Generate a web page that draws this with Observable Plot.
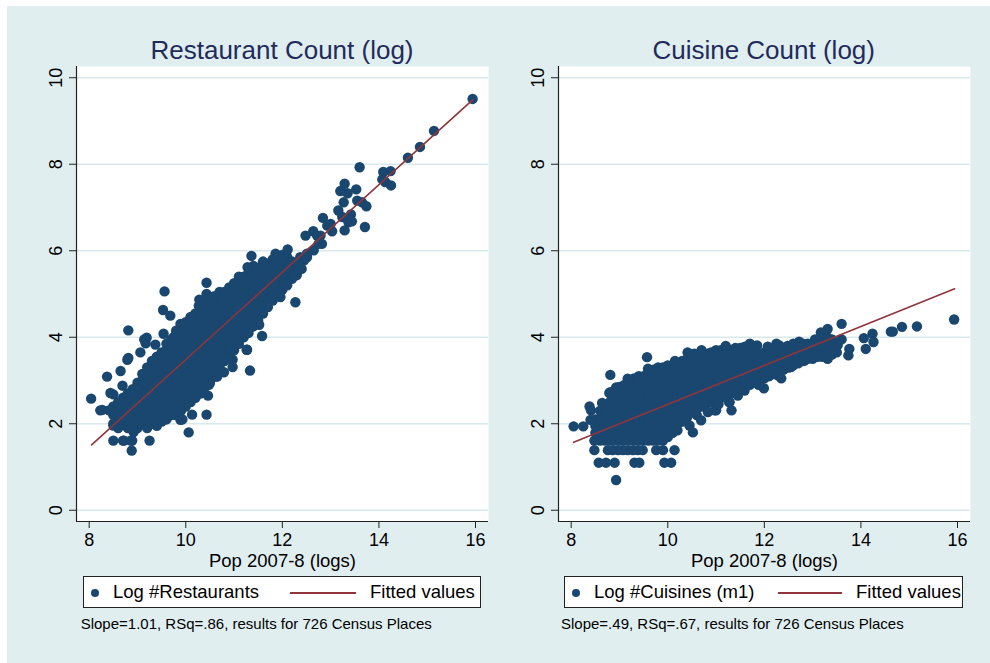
<!DOCTYPE html>
<html>
<head>
<meta charset="utf-8">
<script src="https://cdn.jsdelivr.net/npm/d3@7"></script>
<script src="https://cdn.jsdelivr.net/npm/@observablehq/plot@0.6"></script>
<style>
  body { margin: 0; background: #fff; font-family: "Liberation Sans", Arial, sans-serif; }
  #page { position: relative; width: 990px; height: 663px; overflow: hidden; }
  #bg { position: absolute; left: 7px; top: 6px; right: 0; bottom: 0; background: #e0eef0; }
  .title { position: absolute; top: 37px; width: 412px; text-align: center; font-size: 26px; line-height: 26px; color: #1f2b5c; white-space: nowrap; }
  .panel { position: absolute; top: 60px; }
  .legend { position: absolute; top: 576px; height: 32px; background: #fff; border: 1px solid #222; box-sizing: border-box; }
  .legend .dot { position: absolute; width: 8.6px; height: 8.6px; border-radius: 50%; top: 11.7px; }
  .legend .ln { position: absolute; height: 2px; top: 15px; }
  .legend .lbl { position: absolute; top: 6.3px; font-size: 18.5px; line-height: 18.5px; white-space: nowrap; color: #000; }
  .caption { position: absolute; top: 615.6px; font-size: 15px; line-height: 15px; white-space: nowrap; color: #000; }
</style>
</head>
<body>
<div id="page">
  <div id="bg"></div>
</div>
<script>
// ---- data ----
const xTicks = [8, 10, 12, 14, 16];
const yTicks = [0, 2, 4, 6, 8, 10];
const xDomain = [7.737, 16.269];
const yDomain = [-0.26, 10.26];

const panelTitles = ["Restaurant Count (log)", "Cuisine Count (log)"];
const xLabel = "Pop 2007-8 (logs)";
const seriesLabels = ["Log #Restaurants", "Log #Cuisines (m1)"];
const fitLabel = "Fitted values";
const captions = [
  "Slope=1.01, RSq=.86, results for 726 Census Places",
  "Slope=.49, RSq=.67, results for 726 Census Places"
];

// fitted lines (endpoints at data range)
const fitRestaurantX = [8.05, 15.94];
const fitRestaurantY = [1.51, 9.49];
const fitCuisineX = [8.05, 15.94];
const fitCuisineY = [1.57, 5.12];

// Log #Restaurants: dense cloud read column by column [x, [y...]]
const restaurantCloud = [
  [8.5, [2.0, 2.2, 2.4]],
  [8.6, [1.9, 2.1, 2.3, 2.5]],
  [8.7, [2.0, 2.2, 2.4, 2.6]],
  [8.8, [1.9, 2.1, 2.3, 2.5, 2.7]],
  [8.9, [2.0, 2.2, 2.4, 2.6, 2.8]],
  [9.0, [1.9, 2.1, 2.3, 2.5, 2.7, 2.95]],
  [9.1, [2.0, 2.2, 2.4, 2.6, 2.8, 3.0, 3.15]],
  [9.2, [1.9, 2.1, 2.3, 2.5, 2.7, 2.9, 3.1, 3.3]],
  [9.3, [2.0, 2.2, 2.4, 2.6, 2.8, 3.0, 3.2, 3.45]],
  [9.4, [1.95, 2.15, 2.35, 2.55, 2.75, 2.95, 3.15, 3.35, 3.55]],
  [9.5, [2.05, 2.25, 2.45, 2.65, 2.85, 3.05, 3.25, 3.45, 3.65]],
  [9.6, [2.1, 2.3, 2.5, 2.7, 2.9, 3.1, 3.3, 3.5, 3.7, 3.85]],
  [9.7, [2.2, 2.4, 2.6, 2.8, 3.0, 3.2, 3.4, 3.6, 3.8, 3.95]],
  [9.8, [2.2, 2.4, 2.6, 2.8, 3.0, 3.2, 3.4, 3.6, 3.8, 4.0, 4.15]],
  [9.9, [2.3, 2.5, 2.7, 2.9, 3.1, 3.3, 3.5, 3.7, 3.9, 4.1, 4.25]],
  [10.0, [2.4, 2.6, 2.8, 3.0, 3.2, 3.4, 3.6, 3.8, 4.0, 4.2, 4.35]],
  [10.1, [2.5, 2.7, 2.9, 3.1, 3.3, 3.5, 3.7, 3.9, 4.1, 4.3, 4.45]],
  [10.2, [2.6, 2.8, 3.0, 3.2, 3.4, 3.6, 3.8, 4.0, 4.2, 4.4, 4.55]],
  [10.3, [2.7, 2.9, 3.1, 3.3, 3.5, 3.7, 3.9, 4.1, 4.3, 4.5, 4.65]],
  [10.4, [2.85, 3.05, 3.25, 3.45, 3.65, 3.85, 4.05, 4.25, 4.45, 4.65, 4.8]],
  [10.5, [3.0, 3.2, 3.4, 3.6, 3.8, 4.0, 4.2, 4.4, 4.6, 4.8]],
  [10.6, [3.15, 3.35, 3.55, 3.75, 3.95, 4.15, 4.35, 4.55, 4.75, 4.95]],
  [10.7, [3.3, 3.5, 3.7, 3.9, 4.1, 4.3, 4.5, 4.7, 4.9, 5.05]],
  [10.8, [3.45, 3.65, 3.85, 4.05, 4.25, 4.45, 4.65, 4.85, 5.05]],
  [10.9, [3.55, 3.75, 3.95, 4.15, 4.35, 4.55, 4.75, 4.95, 5.15]],
  [11.0, [3.7, 3.9, 4.1, 4.3, 4.5, 4.7, 4.9, 5.1, 5.25]],
  [11.1, [3.85, 4.05, 4.25, 4.45, 4.65, 4.85, 5.05, 5.25, 5.4]],
  [11.2, [4.0, 4.2, 4.4, 4.6, 4.8, 5.0, 5.2, 5.4]],
  [11.3, [4.1, 4.3, 4.5, 4.7, 4.9, 5.1, 5.3, 5.5]],
  [11.4, [4.25, 4.45, 4.65, 4.85, 5.05, 5.25, 5.45, 5.65]],
  [11.5, [4.4, 4.6, 4.8, 5.0, 5.2, 5.4, 5.6]],
  [11.6, [4.55, 4.75, 4.95, 5.15, 5.35, 5.55, 5.75]],
  [11.7, [4.7, 4.9, 5.1, 5.3, 5.5, 5.7]],
  [11.8, [4.85, 5.05, 5.25, 5.45, 5.65, 5.8]],
  [11.9, [4.95, 5.15, 5.35, 5.55, 5.75]],
  [12.0, [5.1, 5.3, 5.5, 5.7, 5.9]],
  [12.1, [5.2, 5.4, 5.6, 5.85]],
  [12.2, [5.35, 5.55, 5.75]],
  [12.3, [5.45, 5.65]]
];

// Log #Restaurants: scattered points [x, y]
const restaurantOutliers = [
  [15.94, 9.51], [15.14, 8.77], [14.85, 8.40], [14.60, 8.15], [13.60, 7.93],
  [14.09, 7.82], [14.24, 7.84], [14.07, 7.65], [14.13, 7.59], [14.25, 7.51],
  [13.29, 7.55], [13.20, 7.38], [13.35, 7.33], [13.53, 7.42], [13.27, 7.12],
  [13.55, 7.16], [13.65, 7.12], [13.74, 7.03], [13.16, 6.93], [13.42, 6.84],
  [13.24, 6.78], [12.84, 6.76], [13.37, 6.66], [13.44, 6.68], [13.71, 6.55],
  [13.29, 6.47], [13.03, 6.45], [12.93, 6.58], [13.00, 6.62], [12.64, 6.45],
  [12.48, 6.35], [12.72, 6.35], [12.79, 6.35], [12.82, 6.16], [12.75, 6.16],
  [12.65, 6.01], [12.51, 5.93], [12.51, 5.85], [12.37, 5.85], [12.45, 5.78],
  [12.31, 5.70], [12.11, 6.03], [11.86, 5.93], [12.00, 5.83], [12.27, 5.62],
  [12.40, 5.58], [12.13, 5.58], [12.29, 5.43], [12.10, 5.27], [12.27, 4.81],
  [11.36, 5.88], [11.28, 5.62], [11.96, 4.93], [11.52, 4.29], [11.58, 4.03],
  [11.27, 3.71], [11.33, 3.23], [10.97, 3.48], [10.97, 3.31], [10.95, 3.80],
  [10.79, 3.19], [10.65, 3.09], [10.61, 3.09], [10.50, 2.94], [10.48, 2.90],
  [10.46, 2.65], [10.43, 2.21], [10.13, 2.21], [9.89, 2.09], [9.93, 2.10],
  [10.06, 1.80], [10.16, 2.60], [9.56, 5.06], [9.53, 4.63], [9.68, 4.50],
  [10.43, 5.26], [10.43, 5.00], [10.55, 4.93], [10.28, 4.87], [8.81, 4.16],
  [9.19, 3.99], [9.14, 3.95], [9.17, 3.86], [9.37, 3.83], [9.06, 3.65],
  [8.81, 3.52], [8.79, 3.48], [8.65, 3.22], [8.37, 3.09], [8.69, 2.88],
  [8.44, 2.71], [8.50, 2.68], [8.04, 2.58], [8.23, 2.31], [8.41, 2.31],
  [8.27, 2.32], [8.50, 1.96], [8.50, 1.61], [8.70, 1.61], [8.86, 1.61],
  [8.72, 1.61], [8.89, 1.61], [8.88, 1.38], [9.25, 1.61], [8.92, 1.81],
  [10.89, 3.50], [11.26, 3.71], [9.54, 4.08], [9.75, 4.00], [9.89, 4.31],
  [10.10, 4.47], [10.27, 4.73]
];

// Log #Cuisines (m1): dense cloud read column by column [x, [y...]]
const cuisineCloud = [
  [8.5, [1.79, 1.95, 2.1]],
  [8.6, [1.61, 1.79, 1.95, 2.1, 2.3]],
  [8.7, [1.61, 1.79, 1.95, 2.1, 2.3]],
  [8.8, [1.61, 1.79, 1.95, 2.1, 2.3, 2.5]],
  [8.9, [1.61, 1.79, 1.95, 2.1, 2.3, 2.5, 2.7]],
  [9.0, [1.61, 1.79, 1.95, 2.1, 2.3, 2.5, 2.7, 2.85]],
  [9.1, [1.61, 1.79, 1.95, 2.1, 2.3, 2.5, 2.7, 2.9]],
  [9.2, [1.61, 1.79, 1.95, 2.1, 2.3, 2.5, 2.7, 2.9, 3.0]],
  [9.3, [1.61, 1.79, 1.95, 2.1, 2.3, 2.5, 2.7, 2.9, 3.05]],
  [9.4, [1.61, 1.79, 1.95, 2.1, 2.3, 2.5, 2.7, 2.9, 3.1]],
  [9.5, [1.61, 1.79, 1.95, 2.1, 2.3, 2.5, 2.7, 2.9, 3.1]],
  [9.6, [1.61, 1.79, 1.95, 2.1, 2.3, 2.5, 2.7, 2.9, 3.1, 3.2]],
  [9.7, [1.61, 1.79, 1.95, 2.1, 2.3, 2.5, 2.7, 2.9, 3.1, 3.25]],
  [9.8, [1.61, 1.79, 1.95, 2.1, 2.3, 2.5, 2.7, 2.9, 3.1, 3.3]],
  [9.9, [1.61, 1.79, 1.95, 2.1, 2.3, 2.5, 2.7, 2.9, 3.1, 3.3]],
  [10.0, [1.69, 1.85, 2.0, 2.2, 2.4, 2.6, 2.8, 3.0, 3.2, 3.35]],
  [10.1, [1.79, 1.95, 2.1, 2.3, 2.5, 2.7, 2.9, 3.1, 3.3]],
  [10.2, [1.85, 2.0, 2.2, 2.4, 2.6, 2.8, 3.0, 3.2, 3.4]],
  [10.3, [2.05, 2.2, 2.4, 2.6, 2.8, 3.0, 3.2, 3.45]],
  [10.4, [2.15, 2.3, 2.5, 2.7, 2.9, 3.1, 3.3, 3.5]],
  [10.5, [2.3, 2.5, 2.7, 2.9, 3.1, 3.3, 3.5]],
  [10.6, [2.35, 2.55, 2.75, 2.95, 3.15, 3.35, 3.55]],
  [10.7, [2.4, 2.6, 2.8, 3.0, 3.2, 3.4, 3.6]],
  [10.8, [2.45, 2.65, 2.85, 3.05, 3.25, 3.45, 3.6]],
  [10.9, [2.5, 2.7, 2.9, 3.1, 3.3, 3.5, 3.65]],
  [11.0, [2.55, 2.75, 2.95, 3.15, 3.35, 3.55, 3.7]],
  [11.1, [2.6, 2.8, 3.0, 3.2, 3.4, 3.6, 3.7]],
  [11.2, [2.65, 2.85, 3.05, 3.25, 3.45, 3.65]],
  [11.3, [2.7, 2.9, 3.1, 3.3, 3.5, 3.7]],
  [11.4, [2.75, 2.95, 3.15, 3.35, 3.55, 3.75]],
  [11.5, [2.8, 3.0, 3.2, 3.4, 3.6, 3.75]],
  [11.6, [2.85, 3.05, 3.25, 3.45, 3.65, 3.78]],
  [11.7, [2.9, 3.1, 3.3, 3.5, 3.7]],
  [11.8, [2.95, 3.15, 3.35, 3.55, 3.75]],
  [11.9, [3.0, 3.2, 3.4, 3.6]],
  [12.0, [3.05, 3.25, 3.45, 3.65]],
  [12.1, [3.1, 3.3, 3.5, 3.7]],
  [12.2, [3.15, 3.35, 3.55, 3.7]],
  [12.3, [3.2, 3.4, 3.6]],
  [12.4, [3.25, 3.45, 3.65]],
  [12.5, [3.3, 3.5, 3.7]],
  [12.6, [3.35, 3.55, 3.75]],
  [12.7, [3.4, 3.6, 3.8]],
  [12.8, [3.45, 3.65, 3.85]],
  [12.9, [3.5, 3.7]],
  [13.0, [3.5, 3.7, 3.85]],
  [13.1, [3.55, 3.75]],
  [13.2, [3.55, 3.75, 3.95]],
  [13.3, [3.6, 3.8, 4.0]],
  [13.4, [3.6, 3.8, 3.95]],
  [13.5, [3.65, 3.85]]
];

// Log #Cuisines (m1): scattered points and the discrete low rows [x, y]
const cuisineOutliers = [
  [15.93, 4.41], [15.16, 4.25], [14.85, 4.24], [14.62, 4.13], [14.66, 4.13],
  [14.24, 4.08], [14.26, 3.89], [14.06, 3.98], [14.10, 3.73], [13.60, 4.31],
  [13.31, 4.19], [13.17, 4.11], [13.24, 4.05], [13.76, 3.73], [13.74, 3.58],
  [13.52, 3.82], [13.60, 3.95], [13.31, 3.50], [12.72, 3.90], [12.90, 3.85],
  [12.83, 3.46], [12.55, 3.31], [12.31, 3.81], [12.48, 3.80], [12.28, 3.12],
  [12.07, 3.12], [11.99, 2.82], [11.88, 2.90], [11.85, 3.81], [12.07, 3.78],
  [11.59, 2.77], [11.32, 2.31], [11.27, 2.50], [11.28, 2.50], [11.00, 2.31],
  [10.83, 2.27], [10.97, 2.31], [10.69, 2.08], [10.52, 1.80], [10.45, 1.96],
  [10.41, 3.65], [10.55, 3.62], [10.83, 3.62], [10.97, 3.66], [11.38, 3.73],
  [11.55, 3.76], [10.24, 3.39], [9.57, 3.54], [8.81, 3.13], [9.17, 3.04],
  [9.38, 3.00], [9.59, 3.27], [9.62, 3.08], [8.38, 2.40], [8.41, 2.31],
  [8.64, 2.48], [8.79, 2.71], [8.81, 2.73], [8.40, 2.09], [8.05, 1.94],
  [8.25, 1.94], [8.90, 2.38], [9.08, 2.57], [8.93, 2.84], [9.36, 2.88],
  [8.87, 2.31], [8.74, 2.23], [10.24, 2.04], [8.93, 0.70], [8.48, 1.61],
  [8.57, 1.10], [8.72, 1.10], [8.90, 1.10], [9.31, 1.10], [9.41, 1.10],
  [9.93, 1.10], [10.07, 1.10],
  [8.48, 1.39], [8.76, 1.39], [8.86, 1.39], [8.97, 1.39], [9.07, 1.39],
  [9.17, 1.39], [9.28, 1.39], [9.38, 1.39], [9.48, 1.39], [9.76, 1.39],
  [9.90, 1.39], [10.14, 1.39],
  [10.15, 3.45], [10.70, 3.70], [11.20, 3.80], [11.70, 3.85], [12.25, 3.85],
  [12.60, 3.85], [13.05, 3.95], [10.60, 2.20], [11.05, 2.45], [11.45, 2.65],
  [12.35, 3.05]
];

// ---- styling ----
const dotColor = "#1a476f";
const fitColor = "#90353b";
const gridColor = "#d8e8ec";
const axisColor = "#222";
const fontFamily = '"Liberation Sans", Arial, sans-serif';

function toPoints(cloud, extra) {
  const pts = [];
  for (const [x, ys] of cloud) for (const y of ys) pts.push({x, y});
  for (const [x, y] of extra) pts.push({x, y});
  return pts;
}

function panel(points, fitX, fitY) {
  const fit = fitX.map((x, i) => ({x, y: fitY[i]}));
  return Plot.plot({
    width: 480, height: 520,
    marginLeft: 56, marginRight: 12, marginTop: 6, marginBottom: 59,
    x: {domain: xDomain},
    y: {domain: yDomain},
    style: {background: "transparent", fontFamily, fontSize: "18px", color: "#000", overflow: "visible"},
    marks: [
      Plot.frame({fill: "white", stroke: "none"}),
      Plot.ruleY(yTicks, {stroke: gridColor, strokeWidth: 1.6}),
      Plot.dot(points, {x: "x", y: "y", r: 5.2, fill: dotColor}),
      Plot.line(fit, {x: "x", y: "y", stroke: fitColor, strokeWidth: 1.6}),
      Plot.ruleX([xDomain[0]], {stroke: axisColor, strokeWidth: 1.2}),
      Plot.ruleY([yDomain[0]], {stroke: axisColor, strokeWidth: 1.2}),
      Plot.axisX({ticks: xTicks, tickSize: 7, tickPadding: 5, fontSize: 18, label: null, stroke: axisColor}),
      Plot.axisY({ticks: yTicks, tickSize: 7, tickFormat: () => "", label: null, stroke: axisColor}),
      Plot.text(yTicks, {y: d => d, text: d => String(d), frameAnchor: "left", dx: -14.3, rotate: -90,
        textAnchor: "middle", lineAnchor: "bottom", fontSize: 18, fill: "#000"}),
      Plot.text([xLabel], {text: d => d, frameAnchor: "bottom", dy: 45.5, lineAnchor: "bottom", fontSize: 18.5, fill: "#000"})
    ]
  });
}

const page = document.getElementById("page");
const layout = [
  {svgLeft: 20, plotLeft: 76, legendLeft: 82.7, legendWidth: 398, dotX: 12.3, textX: 30.3, lineX1: 207.3, lineX2: 273.3, fitTextX: 287.3, captionLeft: 80.7,
   points: toPoints(restaurantCloud, restaurantOutliers), fitX: fitRestaurantX, fitY: fitRestaurantY},
  {svgLeft: 501.7, plotLeft: 557.7, legendLeft: 564, legendWidth: 399, dotX: 12, textX: 30, lineX1: 214, lineX2: 278, fitTextX: 292, captionLeft: 561,
   points: toPoints(cuisineCloud, cuisineOutliers), fitX: fitCuisineX, fitY: fitCuisineY}
];

layout.forEach((L, i) => {
  const t = document.createElement("div");
  t.className = "title";
  t.style.left = L.plotLeft + "px";
  t.textContent = panelTitles[i];
  page.appendChild(t);

  const wrap = document.createElement("div");
  wrap.className = "panel";
  wrap.style.left = L.svgLeft + "px";
  wrap.appendChild(panel(L.points, L.fitX, L.fitY));
  page.appendChild(wrap);

  const lg = document.createElement("div");
  lg.className = "legend";
  lg.style.left = L.legendLeft + "px";
  lg.style.width = L.legendWidth + "px";
  lg.innerHTML =
    `<span class="dot" style="left:${L.dotX - 4.3 - 1}px;background:${dotColor}"></span>` +
    `<span class="lbl" style="left:${L.textX - 1}px">${seriesLabels[i]}</span>` +
    `<span class="ln" style="left:${L.lineX1 - 1}px;width:${L.lineX2 - L.lineX1}px;background:${fitColor}"></span>` +
    `<span class="lbl" style="left:${L.fitTextX - 1}px">${fitLabel}</span>`;
  page.appendChild(lg);

  const c = document.createElement("div");
  c.className = "caption";
  c.style.left = L.captionLeft + "px";
  c.textContent = captions[i];
  page.appendChild(c);
});
</script>
</body>
</html>
